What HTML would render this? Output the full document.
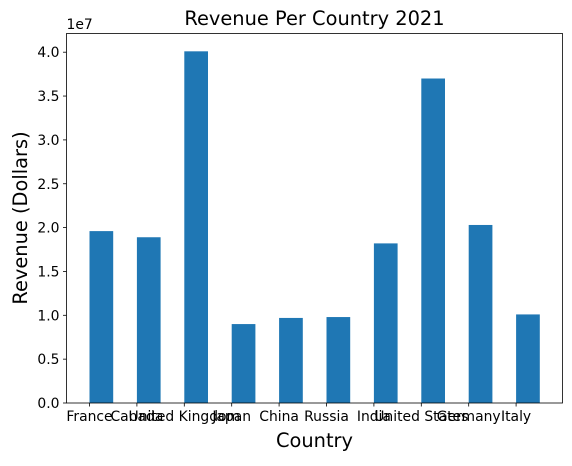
<!DOCTYPE html>
<html><head><meta charset="utf-8"><style>
body{margin:0;background:#fff}
text{font-family:"DejaVu Sans","Liberation Sans",sans-serif;fill:#000}
</style></head><body>
<svg id="chart" width="572" height="461" xmlns="http://www.w3.org/2000/svg"></svg>
<script>
const categories=["France","Canada","United Kingdom","Japan","China","Russia","India","United States","Germany","Italy"];
const revenue=[1.96e7,1.89e7,4.01e7,0.90e7,0.97e7,0.98e7,1.82e7,3.70e7,2.03e7,1.01e7];
const yTicks=[0,0.5,1.0,1.5,2.0,2.5,3.0,3.5,4.0];
const yTickLabels=["0.0","0.5","1.0","1.5","2.0","2.5","3.0","3.5","4.0"];
const svg=document.getElementById('chart');
const NS="http://www.w3.org/2000/svg";
const L=66.5,R=562.5,T=33.5,B=403;
const x=i=>89.5+i*47.4;
const y=v=>B-v/1e7*87.7;
function mk(tag,attrs,txt){const e=document.createElementNS(NS,tag);for(const k in attrs)e.setAttribute(k,attrs[k]);if(txt!==undefined)e.textContent=txt;svg.appendChild(e);return e;}
revenue.forEach((v,i)=>{
 const r=mk('rect',{x:x(i),y:y(v),width:23.7,height:B-y(v),fill:'#1f77b4'});
 
 
 const t=mk('line',{x1:x(i),x2:x(i),y1:B,y2:B+3.5,stroke:'#000','stroke-width':0.8});
 
 
 const l=mk('text',{x:x(i),y:B+18,'text-anchor':'middle','font-size':'13.9'},categories[i]);
 
 
});
yTicks.forEach((v,i)=>{
 const yy=y(v*1e7);
 const t=mk('line',{x1:L-3.5,x2:L,y1:yy,y2:yy,stroke:'#000','stroke-width':0.8});
 
 
 const l=mk('text',{x:L-7,y:yy+5,'text-anchor':'end','font-size':'13.9'},yTickLabels[i]);
 
 
});
const f=mk('rect',{x:L,y:T,width:R-L,height:B-T,fill:'none',stroke:'#000','stroke-width':0.8});


const o=mk('text',{x:L,y:29,'font-size':'13.9'},'1e7');


const ti=mk('text',{x:(L+R)/2,y:25,'text-anchor':'middle','font-size':'19.4'},'Revenue Per Country 2021');


const xt=mk('text',{x:(L+R)/2,y:447,'text-anchor':'middle','font-size':'19.4'},'Country');


const yt=mk('text',{x:0,y:0,'text-anchor':'middle','font-size':'19.4',transform:'translate(27,218) rotate(-90)'},'Revenue (Dollars)');


</script>
</body></html>
